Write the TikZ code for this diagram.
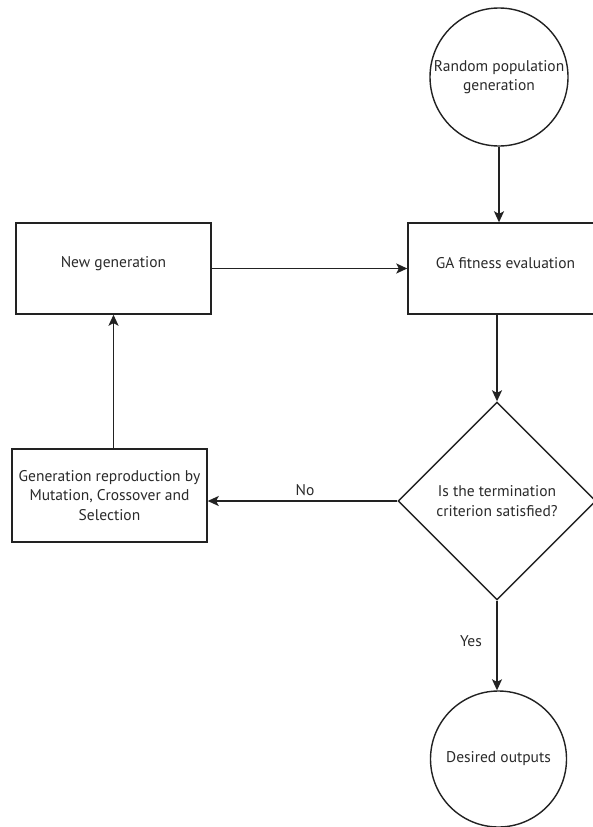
\documentclass[tikz,border=0pt]{standalone}
\usepackage{fontspec}
\setmainfont{PT Sans}
\usetikzlibrary{arrows.meta,shapes.geometric}
\definecolor{ink}{HTML}{222222}
\definecolor{txt}{HTML}{2A2A2A}
\begin{document}
\begin{tikzpicture}[x=1pt,y=-1pt,
  every node/.style={font=\fontsize{15.5}{19.5}\selectfont, text=txt},
  shapeline/.style={draw=ink, line width=1.4pt},
  circ/.style={shapeline, circle, inner sep=0pt, align=center},
  procbox/.style={shapeline, rectangle, inner sep=0pt, minimum width=195pt, align=center},
  decision/.style={shapeline, diamond, aspect=1, inner sep=0pt, minimum width=198pt, minimum height=198pt, align=center},
  flow/.style={draw=ink, line width=1.4pt, -{Stealth[length=11pt,width=10pt,inset=2.5pt]}},
  tag/.style={inner sep=1pt}]
\useasboundingbox (0,0) rectangle (593,827);
\fill[white] (0,0) rectangle (593,827);

% start and end circles
\node[circ, minimum size=138pt] (rand) at (499,77) {Random population\\generation};
\node[circ, minimum size=136pt] (out) at (498.5,759) {Desired outputs};

% process boxes
\node[procbox, minimum height=91pt] (ga) at (505.5,268.5) {};
\node at ([yshift=5pt]ga.center) (gatext) {GA fitness evaluation};
\node[procbox, minimum height=91pt] (new) at (113.5,268.5) {};
\node at ([yshift=5pt]new.center) (newtext) {New generation};
\node[procbox, minimum height=93pt] (rep) at (109.5,495.5) {Generation reproduction by\\Mutation, Crossover and\\Selection};

% termination test
\node[decision] (dia) at (497,501) {Is the termination\\criterion satisfied?};

% connectors
\draw[flow] (rand.south) -- (rand.south |- ga.north);
\draw[flow] (dia.north |- ga.south) -- (dia.north);
\draw[flow] (dia.south) -- (dia.south |- out.north);
\draw[flow] (dia.west) -- (dia.west -| rep.east);
\draw[flow] (new.south |- rep.north) -- (new.south);
\draw[flow] (new.east) -- (new.east -| ga.west);

% branch labels
\node[tag] (no) at (305,490) {No};
\node[tag] (yes) at (471,641) {Yes};
\end{tikzpicture}
\end{document}
